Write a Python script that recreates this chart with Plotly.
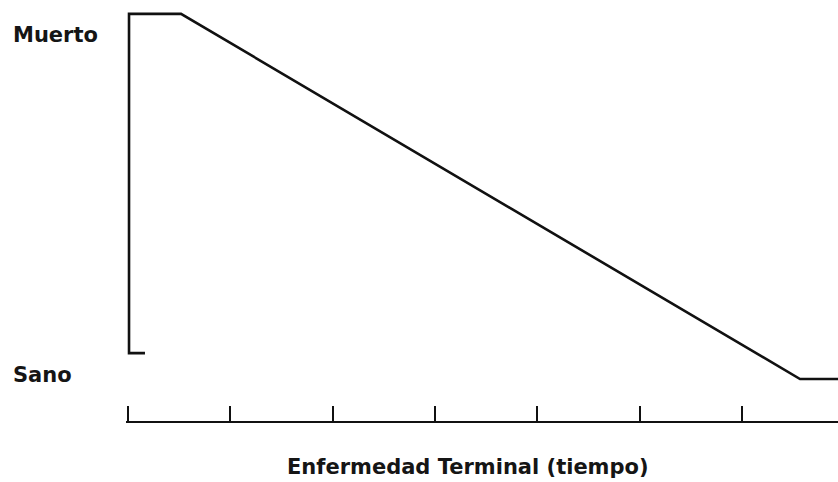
import plotly.graph_objects as go

# Data (time units on x, health state on y: 0 = Sano, 1 = Muerto)
line_x = [0.166, 0.01, 0.01, 0.518, 6.567, 6.94]
line_y = [0.071, 0.071, 1.0, 1.0, 0.0, 0.0]
tick_vals = [0, 1, 2, 3, 4, 5, 6]
state_labels = ["Muerto", "Sano"]
state_label_y = [0.943, 0.011]
x_title = "Enfermedad Terminal (tiempo)"

FONT = "DejaVu Sans, Verdana, sans-serif"

fig = go.Figure()
fig.add_trace(go.Scatter(
    x=line_x, y=line_y, mode="lines",
    line=dict(color="#111111", width=2.6),
    hoverinfo="skip", showlegend=False,
))

fig.update_layout(
    width=838, height=482,
    margin=dict(l=126, r=0, t=8, b=61),
    paper_bgcolor="white", plot_bgcolor="white",
    showlegend=False,
)
fig.update_xaxes(
    range=[-0.0195, 6.938], showgrid=False, zeroline=False,
    showline=True, linecolor="#111111", linewidth=2,
    ticks="inside", ticklen=15, tickwidth=2, tickcolor="#111111",
    tickvals=tick_vals, showticklabels=False,
)
fig.update_yaxes(
    range=[-0.115, 1.016], showgrid=False, zeroline=False,
    showline=False, showticklabels=False, ticks="",
)

for lab, yv in zip(state_labels, state_label_y):
    fig.add_annotation(
        x=0, xref="paper", xshift=-115, xanchor="left",
        y=yv, yref="y", yanchor="middle",
        text="<b>%s</b>" % lab, showarrow=False,
        font=dict(family=FONT, size=21, color="#151515"),
    )

fig.add_annotation(
    x=0.481, xref="paper", xanchor="center",
    y=0, yref="paper", yanchor="middle", yshift=-46,
    text="<b>%s</b>" % x_title, showarrow=False,
    font=dict(family=FONT, size=21, color="#151515"),
)

fig.write_html("out.html", config={"displayModeBar": False})

# remove the browser's default page margin so the figure fills the window
with open("out.html", "r", encoding="utf-8") as f:
    html = f.read()
html = html.replace("<head>", "<head><style>html,body{margin:0;padding:0;overflow:hidden;}</style>", 1)
with open("out.html", "w", encoding="utf-8") as f:
    f.write(html)
